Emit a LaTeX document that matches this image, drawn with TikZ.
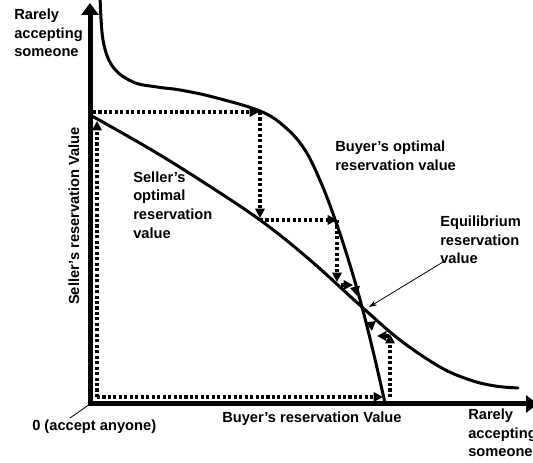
\documentclass[tikz,border=0pt]{standalone}
\usepackage{fontspec}
\setmainfont{Liberation Sans}
\usetikzlibrary{arrows.meta}
\begin{document}
\begin{tikzpicture}[x=0.75pt,y=-0.75pt,
 lbl/.style={font=\fontsize{11}{14}\selectfont\bfseries, inner sep=0pt, align=left, anchor=west},
 axis/.style={line width=3.75pt, line join=miter, {Triangle[length=9pt,width=12.75pt]}-{Triangle[length=9pt,width=12.75pt]}},
 curve/.style={line width=2.25pt, line cap=round},
 cob/.style={line width=2.5pt, dash pattern=on 2.3pt off 1.8pt, -{Triangle[length=7pt,width=7pt]}},
 thinline/.style={line width=0.6pt}]
\useasboundingbox (0,0) rectangle (533,463);
% axes
\coordinate (O) at (90,404);
\coordinate (Ytop) at (90,3);
\coordinate (Xend) at (538,404);
\draw[axis] (Ytop) -- (O) -- (Xend);
% buyer's optimal reservation value curve
\draw[curve] plot[smooth, tension=0.6] coordinates {(100,-5) (103,40) (113,67) (133,82) (157,87) (180,90) (213,97) (260,111) (285,127) (305,150) (322,185) (337,225) (350,265) (362,307) (374,355) (385,403)};
% seller's optimal reservation value curve
\draw[curve] plot[smooth, tension=0.6] coordinates {(92,116) (150,149) (200,180) (260,220) (310,260) (363,308) (400,340) (440,367) (470,380) (495,386) (518,388)};
% cobweb coordinates
\coordinate (a0) at (97,397);
\coordinate (a1) at (97,121);
\coordinate (b0) at (93,112);
\coordinate (b1) at (259,112);
\coordinate (c0) at (260,112);
\coordinate (c1) at (260,218);
\coordinate (d0) at (260,220);
\coordinate (d1) at (337,220);
\coordinate (e0) at (337,220);
\coordinate (e1) at (337,282);
\coordinate (f1) at (383,397);
\coordinate (g0) at (390,397);
\coordinate (g1) at (390,334);
\coordinate (h0) at (341,285);
\coordinate (h1) at (353,285);
\coordinate (i0) at (355,287);
\coordinate (i1) at (357,296);
\coordinate (j0) at (389,336);
\coordinate (j1) at (377,336);
\coordinate (k0) at (371,323);
\coordinate (k1) at (372,331);
\draw[cob] (a0) -- (a1);
\draw[cob] (b0) -- (b1);
\draw[cob] (c0) -- (c1);
\draw[cob] (d0) -- (d1);
\draw[cob] (e0) -- (e1);
\draw[cob] (a0) -- (f1);
\draw[cob] (g0) -- (g1);
\draw[cob] (h0) -- (h1);
\draw[cob] (i0) -- (i1);
\draw[cob] (j0) -- (j1);
\draw[cob] (k0) -- (k1);
% labels
\node[lbl] (tl) at (14,33) {Rarely\\accepting\\someone};
\node[lbl, rotate=90, anchor=center] (sy) at (74,216) {Seller’s reservation Value};
\node[lbl] (so) at (133,205) {Seller’s\\optimal\\reservation\\value};
\node[lbl] (bo) at (335,156) {Buyer’s optimal\\reservation value};
\node[lbl] (eq) at (440,240) {Equilibrium\\reservation\\value};
\node[lbl] (zero) at (32,427) {0 (accept anyone)};
\node[lbl] (bx) at (222,419) {Buyer’s reservation Value};
\node[lbl] (br) at (468,433) {Rarely\\accepting\\someone};
% pointers
\coordinate (eqp) at (443,262);
\coordinate (eqt) at (369,307);
\draw[thinline, -{Stealth[length=6pt,width=4pt]}] (eqp) -- (eqt);
\coordinate (zp) at (70,418);
\draw[thinline] (O) -- (zp);
\end{tikzpicture}
\end{document}
